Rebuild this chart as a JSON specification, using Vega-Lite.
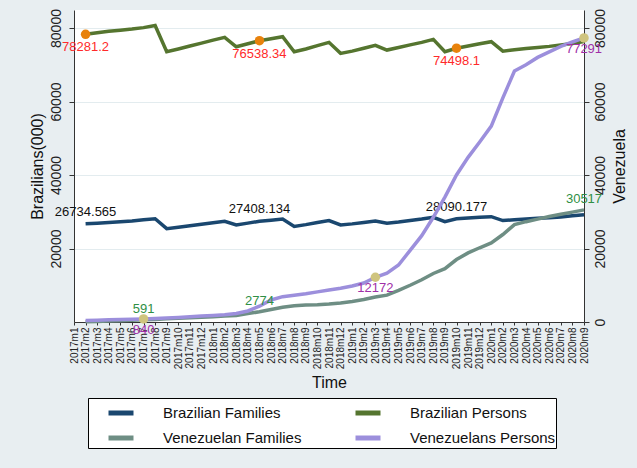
{
  "$schema": "https://vega.github.io/schema/vega-lite/v6.json",
  "width": 510,
  "height": 312,
  "autosize": {"type": "none"},
  "padding": {"left": 74, "top": 10, "right": 53, "bottom": 146},
  "background": "#e8eef1",
  "config": {
    "view": {"fill": "white", "stroke": null},
    "font": "Liberation Sans",
    "axis": {"titleFontWeight": "normal", "domainColor": "#333", "tickColor": "#333", "labelColor": "#222", "titleColor": "#111"}
  },
  "datasets": {
    "series": [
      {"m":"2017m2","s":"Brazilian Families","v":26734.565},{"m":"2017m3","s":"Brazilian Families","v":26900},{"m":"2017m4","s":"Brazilian Families","v":27100},{"m":"2017m5","s":"Brazilian Families","v":27300},{"m":"2017m6","s":"Brazilian Families","v":27500},{"m":"2017m7","s":"Brazilian Families","v":27800},{"m":"2017m8","s":"Brazilian Families","v":28100},{"m":"2017m9","s":"Brazilian Families","v":25400},{"m":"2017m10","s":"Brazilian Families","v":25800},{"m":"2017m11","s":"Brazilian Families","v":26200},{"m":"2017m12","s":"Brazilian Families","v":26600},{"m":"2018m1","s":"Brazilian Families","v":27000},{"m":"2018m2","s":"Brazilian Families","v":27400},{"m":"2018m3","s":"Brazilian Families","v":26400},{"m":"2018m4","s":"Brazilian Families","v":26900},{"m":"2018m5","s":"Brazilian Families","v":27408.134},{"m":"2018m6","s":"Brazilian Families","v":27700},{"m":"2018m7","s":"Brazilian Families","v":28000},{"m":"2018m8","s":"Brazilian Families","v":26000},{"m":"2018m9","s":"Brazilian Families","v":26500},{"m":"2018m10","s":"Brazilian Families","v":27100},{"m":"2018m11","s":"Brazilian Families","v":27600},{"m":"2018m12","s":"Brazilian Families","v":26400},{"m":"2019m1","s":"Brazilian Families","v":26700},{"m":"2019m2","s":"Brazilian Families","v":27100},{"m":"2019m3","s":"Brazilian Families","v":27500},{"m":"2019m4","s":"Brazilian Families","v":26900},{"m":"2019m5","s":"Brazilian Families","v":27200},{"m":"2019m6","s":"Brazilian Families","v":27600},{"m":"2019m7","s":"Brazilian Families","v":28000},{"m":"2019m8","s":"Brazilian Families","v":28500},{"m":"2019m9","s":"Brazilian Families","v":27300},{"m":"2019m10","s":"Brazilian Families","v":28090.177},{"m":"2019m11","s":"Brazilian Families","v":28300},{"m":"2019m12","s":"Brazilian Families","v":28500},{"m":"2020m1","s":"Brazilian Families","v":28650},{"m":"2020m2","s":"Brazilian Families","v":27600},{"m":"2020m3","s":"Brazilian Families","v":27800},{"m":"2020m4","s":"Brazilian Families","v":28000},{"m":"2020m5","s":"Brazilian Families","v":28200},{"m":"2020m6","s":"Brazilian Families","v":28400},{"m":"2020m7","s":"Brazilian Families","v":28600},{"m":"2020m8","s":"Brazilian Families","v":28900},{"m":"2020m9","s":"Brazilian Families","v":29200},
      {"m":"2017m2","s":"Brazilian Persons","v":78281.2},{"m":"2017m3","s":"Brazilian Persons","v":78700},{"m":"2017m4","s":"Brazilian Persons","v":79100},{"m":"2017m5","s":"Brazilian Persons","v":79400},{"m":"2017m6","s":"Brazilian Persons","v":79700},{"m":"2017m7","s":"Brazilian Persons","v":80100},{"m":"2017m8","s":"Brazilian Persons","v":80700},{"m":"2017m9","s":"Brazilian Persons","v":73550},{"m":"2017m10","s":"Brazilian Persons","v":74300},{"m":"2017m11","s":"Brazilian Persons","v":75100},{"m":"2017m12","s":"Brazilian Persons","v":75900},{"m":"2018m1","s":"Brazilian Persons","v":76700},{"m":"2018m2","s":"Brazilian Persons","v":77470},{"m":"2018m3","s":"Brazilian Persons","v":74900},{"m":"2018m4","s":"Brazilian Persons","v":75700},{"m":"2018m5","s":"Brazilian Persons","v":76538.34},{"m":"2018m6","s":"Brazilian Persons","v":77100},{"m":"2018m7","s":"Brazilian Persons","v":77630},{"m":"2018m8","s":"Brazilian Persons","v":73550},{"m":"2018m9","s":"Brazilian Persons","v":74300},{"m":"2018m10","s":"Brazilian Persons","v":75200},{"m":"2018m11","s":"Brazilian Persons","v":76100},{"m":"2018m12","s":"Brazilian Persons","v":73100},{"m":"2019m1","s":"Brazilian Persons","v":73700},{"m":"2019m2","s":"Brazilian Persons","v":74500},{"m":"2019m3","s":"Brazilian Persons","v":75300},{"m":"2019m4","s":"Brazilian Persons","v":74000},{"m":"2019m5","s":"Brazilian Persons","v":74700},{"m":"2019m6","s":"Brazilian Persons","v":75400},{"m":"2019m7","s":"Brazilian Persons","v":76100},{"m":"2019m8","s":"Brazilian Persons","v":76900},{"m":"2019m9","s":"Brazilian Persons","v":73550},{"m":"2019m10","s":"Brazilian Persons","v":74498.1},{"m":"2019m11","s":"Brazilian Persons","v":75100},{"m":"2019m12","s":"Brazilian Persons","v":75700},{"m":"2020m1","s":"Brazilian Persons","v":76270},{"m":"2020m2","s":"Brazilian Persons","v":73700},{"m":"2020m3","s":"Brazilian Persons","v":74100},{"m":"2020m4","s":"Brazilian Persons","v":74400},{"m":"2020m5","s":"Brazilian Persons","v":74700},{"m":"2020m6","s":"Brazilian Persons","v":75000},{"m":"2020m7","s":"Brazilian Persons","v":75400},{"m":"2020m8","s":"Brazilian Persons","v":75800},{"m":"2020m9","s":"Brazilian Persons","v":76300},
      {"m":"2017m2","s":"Venezuelan Families","v":100},{"m":"2017m3","s":"Venezuelan Families","v":150},{"m":"2017m4","s":"Venezuelan Families","v":250},{"m":"2017m5","s":"Venezuelan Families","v":350},{"m":"2017m6","s":"Venezuelan Families","v":450},{"m":"2017m7","s":"Venezuelan Families","v":591},{"m":"2017m8","s":"Venezuelan Families","v":700},{"m":"2017m9","s":"Venezuelan Families","v":850},{"m":"2017m10","s":"Venezuelan Families","v":1000},{"m":"2017m11","s":"Venezuelan Families","v":1150},{"m":"2017m12","s":"Venezuelan Families","v":1300},{"m":"2018m1","s":"Venezuelan Families","v":1450},{"m":"2018m2","s":"Venezuelan Families","v":1600},{"m":"2018m3","s":"Venezuelan Families","v":1800},{"m":"2018m4","s":"Venezuelan Families","v":2300},{"m":"2018m5","s":"Venezuelan Families","v":2774},{"m":"2018m6","s":"Venezuelan Families","v":3400},{"m":"2018m7","s":"Venezuelan Families","v":4000},{"m":"2018m8","s":"Venezuelan Families","v":4400},{"m":"2018m9","s":"Venezuelan Families","v":4600},{"m":"2018m10","s":"Venezuelan Families","v":4700},{"m":"2018m11","s":"Venezuelan Families","v":4900},{"m":"2018m12","s":"Venezuelan Families","v":5200},{"m":"2019m1","s":"Venezuelan Families","v":5600},{"m":"2019m2","s":"Venezuelan Families","v":6100},{"m":"2019m3","s":"Venezuelan Families","v":6800},{"m":"2019m4","s":"Venezuelan Families","v":7300},{"m":"2019m5","s":"Venezuelan Families","v":8600},{"m":"2019m6","s":"Venezuelan Families","v":10000},{"m":"2019m7","s":"Venezuelan Families","v":11500},{"m":"2019m8","s":"Venezuelan Families","v":13200},{"m":"2019m9","s":"Venezuelan Families","v":14500},{"m":"2019m10","s":"Venezuelan Families","v":17000},{"m":"2019m11","s":"Venezuelan Families","v":18800},{"m":"2019m12","s":"Venezuelan Families","v":20200},{"m":"2020m1","s":"Venezuelan Families","v":21500},{"m":"2020m2","s":"Venezuelan Families","v":23800},{"m":"2020m3","s":"Venezuelan Families","v":26500},{"m":"2020m4","s":"Venezuelan Families","v":27300},{"m":"2020m5","s":"Venezuelan Families","v":28000},{"m":"2020m6","s":"Venezuelan Families","v":28700},{"m":"2020m7","s":"Venezuelan Families","v":29300},{"m":"2020m8","s":"Venezuelan Families","v":29900},{"m":"2020m9","s":"Venezuelan Families","v":30517},
      {"m":"2017m2","s":"Venezuelans Persons","v":400},{"m":"2017m3","s":"Venezuelans Persons","v":500},{"m":"2017m4","s":"Venezuelans Persons","v":600},{"m":"2017m5","s":"Venezuelans Persons","v":680},{"m":"2017m6","s":"Venezuelans Persons","v":760},{"m":"2017m7","s":"Venezuelans Persons","v":840},{"m":"2017m8","s":"Venezuelans Persons","v":950},{"m":"2017m9","s":"Venezuelans Persons","v":1100},{"m":"2017m10","s":"Venezuelans Persons","v":1250},{"m":"2017m11","s":"Venezuelans Persons","v":1400},{"m":"2017m12","s":"Venezuelans Persons","v":1600},{"m":"2018m1","s":"Venezuelans Persons","v":1800},{"m":"2018m2","s":"Venezuelans Persons","v":2000},{"m":"2018m3","s":"Venezuelans Persons","v":2300},{"m":"2018m4","s":"Venezuelans Persons","v":3000},{"m":"2018m5","s":"Venezuelans Persons","v":4300},{"m":"2018m6","s":"Venezuelans Persons","v":6000},{"m":"2018m7","s":"Venezuelans Persons","v":6900},{"m":"2018m8","s":"Venezuelans Persons","v":7300},{"m":"2018m9","s":"Venezuelans Persons","v":7700},{"m":"2018m10","s":"Venezuelans Persons","v":8200},{"m":"2018m11","s":"Venezuelans Persons","v":8700},{"m":"2018m12","s":"Venezuelans Persons","v":9200},{"m":"2019m1","s":"Venezuelans Persons","v":9800},{"m":"2019m2","s":"Venezuelans Persons","v":10600},{"m":"2019m3","s":"Venezuelans Persons","v":12172},{"m":"2019m4","s":"Venezuelans Persons","v":13300},{"m":"2019m5","s":"Venezuelans Persons","v":15500},{"m":"2019m6","s":"Venezuelans Persons","v":19500},{"m":"2019m7","s":"Venezuelans Persons","v":23500},{"m":"2019m8","s":"Venezuelans Persons","v":28500},{"m":"2019m9","s":"Venezuelans Persons","v":34000},{"m":"2019m10","s":"Venezuelans Persons","v":40000},{"m":"2019m11","s":"Venezuelans Persons","v":44800},{"m":"2019m12","s":"Venezuelans Persons","v":49000},{"m":"2020m1","s":"Venezuelans Persons","v":53300},{"m":"2020m2","s":"Venezuelans Persons","v":61000},{"m":"2020m3","s":"Venezuelans Persons","v":68300},{"m":"2020m4","s":"Venezuelans Persons","v":70000},{"m":"2020m5","s":"Venezuelans Persons","v":72000},{"m":"2020m6","s":"Venezuelans Persons","v":73500},{"m":"2020m7","s":"Venezuelans Persons","v":75000},{"m":"2020m8","s":"Venezuelans Persons","v":76200},{"m":"2020m9","s":"Venezuelans Persons","v":77291}
    ],
    "labels": [
      {"m":"2017m2","s":"Brazilian Persons","v":78281.2,"label":"78281.2"},
      {"m":"2018m5","s":"Brazilian Persons","v":76538.34,"label":"76538.34"},
      {"m":"2019m10","s":"Brazilian Persons","v":74498.1,"label":"74498.1"},
      {"m":"2017m2","s":"Brazilian Families","v":26734.565,"label":"26734.565"},
      {"m":"2018m5","s":"Brazilian Families","v":27408.134,"label":"27408.134"},
      {"m":"2019m10","s":"Brazilian Families","v":28090.177,"label":"28090.177"},
      {"m":"2017m7","s":"Venezuelan Families","v":591,"label":"591"},
      {"m":"2018m5","s":"Venezuelan Families","v":2774,"label":"2774"},
      {"m":"2020m9","s":"Venezuelan Families","v":30517,"label":"30517"},
      {"m":"2017m7","s":"Venezuelans Persons","v":840,"label":"840"},
      {"m":"2019m3","s":"Venezuelans Persons","v":12172,"label":"12172"},
      {"m":"2020m9","s":"Venezuelans Persons","v":77291,"label":"77291"}
    ]
  },
  "encoding": {
    "x": {
      "field": "m", "type": "ordinal",
      "scale": {"type": "point", "padding": 0, "domain": ["2017m1","2017m2","2017m3","2017m4","2017m5","2017m6","2017m7","2017m8","2017m9","2017m10","2017m11","2017m12","2018m1","2018m2","2018m3","2018m4","2018m5","2018m6","2018m7","2018m8","2018m9","2018m10","2018m11","2018m12","2019m1","2019m2","2019m3","2019m4","2019m5","2019m6","2019m7","2019m8","2019m9","2019m10","2019m11","2019m12","2020m1","2020m2","2020m3","2020m4","2020m5","2020m6","2020m7","2020m8","2020m9"]},
      "axis": {"title": "Time", "labelAngle": -90, "labelFontSize": 10, "titleFontSize": 16, "tickSize": 3, "labelPadding": 2, "titlePadding": 6, "grid": false}
    }
  },
  "resolve": {"scale": {"y": "independent"}},
  "layer": [
    {
      "encoding": {
        "y": {
          "field": "v", "type": "quantitative",
          "scale": {"domain": [0, 84900], "nice": false},
          "axis": {"title": "Brazilians(000)", "orient": "left", "format": "d", "values": [20000, 40000, 60000, 80000], "labelAngle": -90, "labelAlign": "center", "labelBaseline": "bottom", "labelFontSize": 14, "titleFontSize": 16, "grid": true, "gridColor": "#e3ecef", "tickSize": 5, "labelPadding": 6, "titlePadding": 4}
        }
      },
      "layer": [
        {
          "data": {"name": "series"},
          "transform": [{"filter": {"field": "s", "oneOf": ["Brazilian Families", "Brazilian Persons"]}}],
          "mark": {"type": "line", "strokeWidth": 3.5},
          "encoding": {
            "color": {
              "field": "s", "type": "nominal",
              "scale": {"domain": ["Brazilian Families", "Venezuelan Families", "Brazilian Persons", "Venezuelans Persons"], "range": ["#1a476f", "#6e8e84", "#55752f", "#9c8fdc"]},
              "legend": {"orient": "none", "legendX": 14, "legendY": 388, "columns": 2, "title": null, "symbolType": "stroke", "symbolSize": 625, "symbolStrokeWidth": 5, "symbolOffset": 18, "labelFontSize": 15, "labelColor": "#111", "labelOffset": 27, "columnPadding": 33, "rowPadding": 0, "padding": 0, "strokeColor": "#000", "fillColor": "#fff", "labelLimit": 300}
            }
          }
        },
        {
          "data": {"name": "labels"},
          "transform": [{"filter": {"field": "s", "equal": "Brazilian Persons"}}],
          "mark": {"type": "circle", "size": 90, "color": "#e8820c", "opacity": 1}
        },
        {
          "data": {"name": "labels"},
          "transform": [{"filter": {"field": "s", "equal": "Brazilian Persons"}}],
          "mark": {"type": "text", "color": "#ff2a2a", "dy": 13, "fontSize": 13},
          "encoding": {"text": {"field": "label"}}
        },
        {
          "data": {"name": "labels"},
          "transform": [{"filter": {"field": "s", "equal": "Brazilian Families"}}],
          "mark": {"type": "text", "color": "#111", "dy": -12, "fontSize": 13},
          "encoding": {"text": {"field": "label"}}
        }
      ]
    },
    {
      "encoding": {
        "y": {
          "field": "v", "type": "quantitative",
          "scale": {"domain": [0, 84900], "nice": false},
          "axis": {"title": "Venezuela", "orient": "right", "format": "d", "values": [0, 20000, 40000, 60000, 80000], "labelAngle": -90, "labelAlign": "center", "labelBaseline": "top", "labelFontSize": 14, "titleFontSize": 16, "titleAngle": -90, "titleBaseline": "top", "grid": false, "tickSize": 5, "labelPadding": 4, "titlePadding": 4}
        }
      },
      "layer": [
        {
          "data": {"name": "series"},
          "transform": [{"filter": {"field": "s", "oneOf": ["Venezuelan Families", "Venezuelans Persons"]}}],
          "mark": {"type": "line", "strokeWidth": 3.5},
          "encoding": {
            "color": {
              "field": "s", "type": "nominal",
              "scale": {"domain": ["Brazilian Families", "Venezuelan Families", "Brazilian Persons", "Venezuelans Persons"], "range": ["#1a476f", "#6e8e84", "#55752f", "#9c8fdc"]},
              "legend": {"orient": "none", "legendX": 14, "legendY": 388, "columns": 2, "title": null, "symbolType": "stroke", "symbolSize": 625, "symbolStrokeWidth": 5, "symbolOffset": 18, "labelFontSize": 15, "labelColor": "#111", "labelOffset": 27, "columnPadding": 33, "rowPadding": 0, "padding": 0, "strokeColor": "#000", "fillColor": "#fff", "labelLimit": 300}
            }
          }
        },
        {
          "data": {"name": "labels"},
          "transform": [{"filter": {"field": "s", "equal": "Venezuelans Persons"}}],
          "mark": {"type": "circle", "size": 90, "color": "#cfc47e", "opacity": 1}
        },
        {
          "data": {"name": "labels"},
          "transform": [{"filter": {"field": "s", "equal": "Venezuelan Families"}}],
          "mark": {"type": "text", "color": "#2f8f45", "dy": -11, "fontSize": 13},
          "encoding": {"text": {"field": "label"}}
        },
        {
          "data": {"name": "labels"},
          "transform": [{"filter": {"field": "s", "equal": "Venezuelans Persons"}}],
          "mark": {"type": "text", "color": "#a02fa8", "dy": 11, "fontSize": 13},
          "encoding": {"text": {"field": "label"}}
        }
      ]
    }
  ]
}
